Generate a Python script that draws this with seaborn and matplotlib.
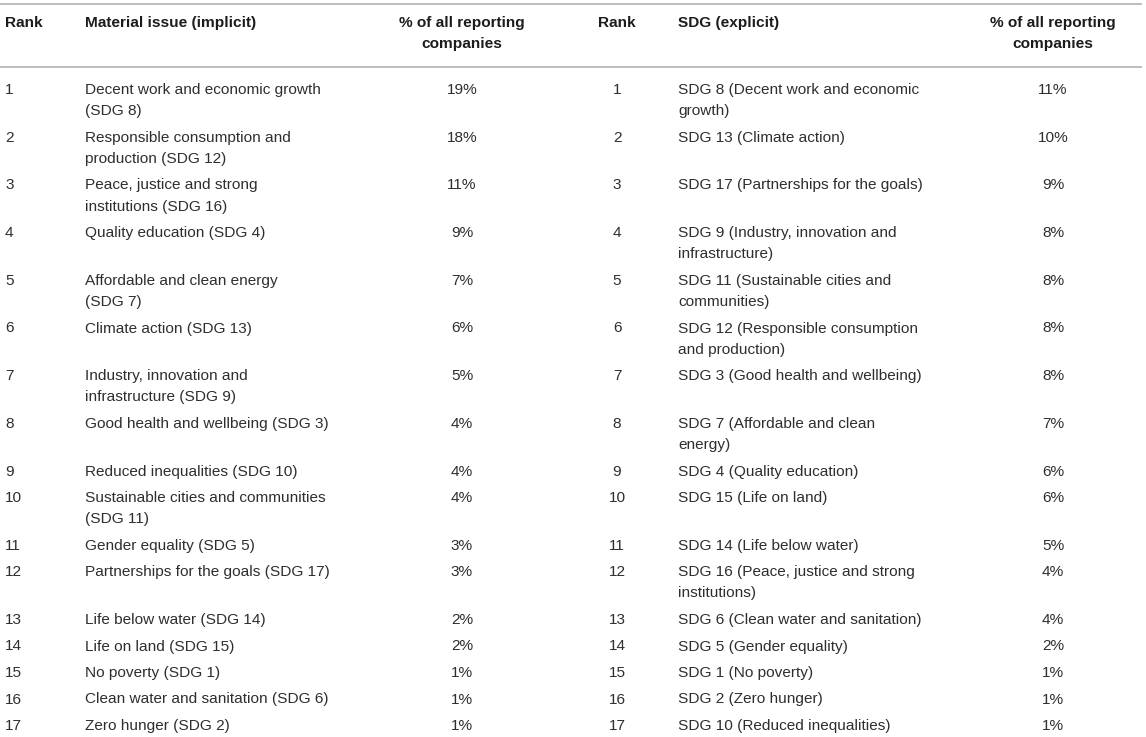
import matplotlib
matplotlib.use("Agg")
import matplotlib.pyplot as plt
import seaborn as sns

# --- data ---
ranks = list(range(1, 18))

material_issues = [
    "Decent work and economic growth\n(SDG 8)",
    "Responsible consumption and\nproduction (SDG 12)",
    "Peace, justice and strong\ninstitutions (SDG 16)",
    "Quality education (SDG 4)",
    "Affordable and clean energy\n(SDG 7)",
    "Climate action (SDG 13)",
    "Industry, innovation and\ninfrastructure (SDG 9)",
    "Good health and wellbeing (SDG 3)",
    "Reduced inequalities (SDG 10)",
    "Sustainable cities and communities\n(SDG 11)",
    "Gender equality (SDG 5)",
    "Partnerships for the goals (SDG 17)",
    "Life below water (SDG 14)",
    "Life on land (SDG 15)",
    "No poverty (SDG 1)",
    "Clean water and sanitation (SDG 6)",
    "Zero hunger (SDG 2)",
]
implicit_pct = [19, 18, 11, 9, 7, 6, 5, 4, 4, 4, 3, 3, 2, 2, 1, 1, 1]

sdgs_explicit = [
    "SDG 8 (Decent work and economic\ngrowth)",
    "SDG 13 (Climate action)",
    "SDG 17 (Partnerships for the goals)",
    "SDG 9 (Industry, innovation and\ninfrastructure)",
    "SDG 11 (Sustainable cities and\ncommunities)",
    "SDG 12 (Responsible consumption\nand production)",
    "SDG 3 (Good health and wellbeing)",
    "SDG 7 (Affordable and clean\nenergy)",
    "SDG 4 (Quality education)",
    "SDG 15 (Life on land)",
    "SDG 14 (Life below water)",
    "SDG 16 (Peace, justice and strong\ninstitutions)",
    "SDG 6 (Clean water and sanitation)",
    "SDG 5 (Gender equality)",
    "SDG 1 (No poverty)",
    "SDG 2 (Zero hunger)",
    "SDG 10 (Reduced inequalities)",
]
explicit_pct = [11, 10, 9, 8, 8, 8, 8, 7, 6, 6, 5, 4, 4, 2, 1, 1, 1]

headers = ["Rank", "Material issue (implicit)", "% of all reporting\ncompanies",
           "Rank", "SDG (explicit)", "% of all reporting\ncompanies"]

# --- layout (pixel units) ---
W, H = 1146, 737
LINE_H = 21.2
PAD = 5.3
FONT_SIZE = 11.1
BODY_COLOR = "#2e2e2e"
HEAD_COLOR = "#1c1c1c"
RULE_COLOR = "#b8b8b8"

sns.set_theme(style="white")
plt.rcParams["font.family"] = ["Liberation Sans", "DejaVu Sans"]

fig = plt.figure(figsize=(W / 100, H / 100), dpi=100)
ax = fig.add_axes([0, 0, 1, 1])
ax.set_xlim(0, W)
ax.set_ylim(H, 0)
ax.axis("off")


def put_lines(x, y, text, ha, **kw):
    """Write each line of a (possibly multi-line) cell separately."""
    for k, line in enumerate(text.split("\n")):
        ax.text(x, y + k * LINE_H, line, ha=ha, va="center",
                fontsize=FONT_SIZE, **kw)


# rules
ax.hlines([4, 67], 0, 1142, color=RULE_COLOR, lw=1.3)

# header row
head_cols = [(5, "left"), (85, "left"), (462, "center"),
             (617, "center"), (678, "left"), (1053, "center")]
for (x, ha), label in zip(head_cols, headers):
    put_lines(x, 23, label, ha, color=HEAD_COLOR, fontweight="bold")

# body rows
y = 90
for i, r in enumerate(ranks):
    n_lines = max(material_issues[i].count("\n"), sdgs_explicit[i].count("\n")) + 1
    put_lines(5, y, str(r), "left", color=BODY_COLOR)
    put_lines(85, y, material_issues[i], "left", color=BODY_COLOR)
    put_lines(462, y, f"{implicit_pct[i]}%", "center", color=BODY_COLOR)
    put_lines(617, y, str(r), "center", color=BODY_COLOR)
    put_lines(678, y, sdgs_explicit[i], "left", color=BODY_COLOR)
    put_lines(1053, y, f"{explicit_pct[i]}%", "center", color=BODY_COLOR)
    y += n_lines * LINE_H + PAD

fig.savefig("out.png", dpi=100, facecolor="white")
